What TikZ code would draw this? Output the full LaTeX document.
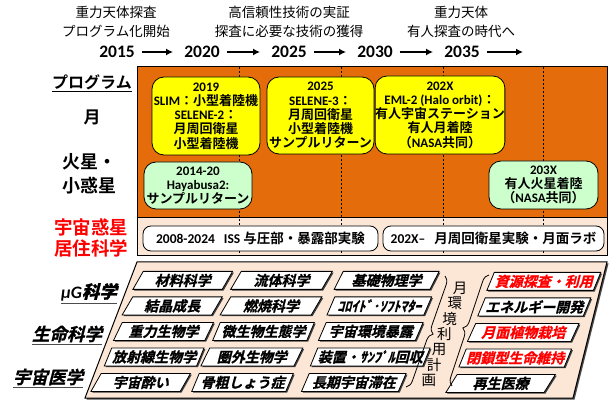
\documentclass[tikz,border=0pt]{standalone}
\usepackage{fontspec}
\setmainfont{Carlito}
\newfontfamily\jp{Noto Sans CJK JP}[BoldFont={Noto Sans CJK JP Bold}]
\newfontfamily\jpbi{Noto Sans CJK JP Bold}[FakeSlant=0.25,FakeBold=1]
\usetikzlibrary{shapes.geometric,shadows,decorations.pathreplacing,arrows.meta,calc}
\newcommand\en[1]{{\normalfont\bfseries #1}}
\definecolor{org}{RGB}{228,108,10}
\definecolor{bge}{RGB}{252,230,214}
\definecolor{ylw}{RGB}{255,255,0}
\definecolor{grn}{RGB}{204,255,204}
\tikzset{
  hdr/.style={align=center, inner sep=0pt, font={\jp\fontsize{13.5}{19}\selectfont}},
  yr/.style={inner sep=0pt, font={\bfseries\fontsize{17.5}{17.5}\selectfont}},
  yarr/.style={line width=1.8pt, -{Latex[length=7pt,width=7pt]}, shorten <=7pt, shorten >=11pt},
  lab/.style={inner sep=0pt, align=center, font={\jp\bfseries\fontsize{17}{23}\selectfont}},
  llab/.style={inner sep=0pt, font={\jpbi\fontsize{17.5}{17.5}\selectfont}},
  ybox/.style={draw=black, line width=0.8pt, rounded corners=12pt, fill=ylw, align=center, inner sep=0pt,
     font={\jp\bfseries\fontsize{13}{14.3}\selectfont}},
  gbox/.style={ybox, fill=grn},
  wbox/.style={draw=black, line width=0.8pt, rounded corners=8pt, fill=white, inner sep=0pt,
     minimum height=25pt, font={\jp\bfseries\fontsize{13.5}{13.5}\selectfont}},
  cell/.style={trapezium, trapezium left angle=61, trapezium right angle=119, trapezium stretches=true,
     draw=black, line width=0.8pt, fill=white, inner sep=0pt, minimum height=18pt, anchor=top left corner,
     font={\jpbi\fontsize{14}{14}\selectfont},
     drop shadow={shadow xshift=1.3pt, shadow yshift=-1.3pt, fill=black!75, opacity=1}},
  vt/.style={inner sep=0pt, font={\jp\fontsize{14.5}{14.5}\selectfont}},
  brc/.style={decorate, decoration={brace, amplitude=8pt}, line width=0.8pt},
  dsh/.style={line width=0.6pt, dash pattern=on 2pt off 2pt}
}
\begin{document}
\begin{tikzpicture}[x=1pt,y=-1pt]
\useasboundingbox (0,0) rectangle (614,401);
\fill[white] (0,0) rectangle (614,401);

% header
\node[hdr] (h1) at (116,22) {重力天体探査\\プログラム化開始};
\node[hdr] (h2) at (289,22) {高信頼性技術の実証\\探査に必要な技術の獲得};
\node[hdr] (h3) at (461,22) {重力天体\\有人探査の時代へ};

\node[yr] (y15) at (117,52) {2015};
\node[yr] (y20) at (202,52) {2020};
\node[yr] (y25) at (289,52) {2025};
\node[yr] (y30) at (375,52) {2030};
\node[yr] (y35) at (462,52) {2035};
\coordinate (yend) at (534,52);
\draw[yarr] (y15) -- (y20);
\draw[yarr] (y20) -- (y25);
\draw[yarr] (y25) -- (y30);
\draw[yarr] (y30) -- (y35);
\draw[yarr] (y35) -- (yend);

% upper frame
\fill[org] (137,67) rectangle (607,217);
\fill[bge] (137,217) rectangle (607,256);
\draw[line width=0.6pt] (137,217) -- (607,217);
\foreach \xx in {239,341,443,543} \draw[dsh] (\xx,67) -- (\xx,256);
\draw[line width=1pt] (137,67) rectangle (607,256);

% left labels
\node[lab, font={\jp\bfseries\fontsize{16}{16}\selectfont}] (prog) at (92,82) {プログラム};
\draw[line width=1.2pt] ([yshift=-1.5pt]prog.south west) -- ([yshift=-1.5pt]prog.south east);
\node[lab] (moon) at (92,117) {月};
\node[lab, font={\jp\bfseries\fontsize{18}{24}\selectfont}] (mars) at (90,174) {火星・\\小惑星};
\node[lab, text=red, font={\jp\bfseries\fontsize{18.5}{21}\selectfont}] (hab) at (91,238) {宇宙惑星\\居住科学};

% program boxes
\node[ybox, minimum width=108pt, minimum height=78pt] (p2019) at (206,116)
  {\en{2019}\\\en{SLIM}：小型着陸機\\\en{SELENE-2}：\\月周回衛星\\小型着陸機};
\node[ybox, minimum width=107pt, minimum height=77pt] (p2025) at (320.5,115.5)
  {\en{2025}\\\en{SELENE-3}：\\月周回衛星\\小型着陸機\\サンプルリターン};
\node[ybox, minimum width=118pt, minimum height=78pt] (p202x) at (440,115)
  {\en{202X}\\\en{EML-2 (Halo orbit)}：\\有人宇宙ステーション\\有人月着陸\\（\en{NASA}共同）};
\node[gbox, minimum width=108pt, minimum height=47pt] (hay) at (198,185.5)
  {\en{2014-20}\\\en{Hayabusa2:}\\サンプルリターン};
\node[gbox, minimum width=109pt, minimum height=48pt] (p203x) at (543.5,185)
  {\en{203X}\\有人火星着陸\\（\en{NASA}共同）};

\node[wbox, minimum width=235pt] (iss) at (260.5,238.5) {\en{2008-2024}\hspace{9pt}\en{ISS} 与圧部・暴露部実験};
\node[wbox, minimum width=221pt] (lab2) at (493.5,238.5) {\en{202X–}\hspace{9pt}月周回衛星実験・月面ラボ};

% lower frame
\path[fill=bge, draw=black, line width=1pt, drop shadow={shadow xshift=1.5pt, shadow yshift=-1.5pt, fill=black!70, opacity=1}]
  (137,262) -- (607,262) -- (573,398) -- (85,398) -- cycle;

\node[llab] (mug) at (89,292) {\normalfont\bfseries\itshape μG\jpbi 科学};
\draw[line width=1.2pt, black!70] ([yshift=-2pt]mug.south west) -- ([yshift=-2pt]mug.south east);
\node[llab] (life) at (67,334) {生命科学};
\draw[line width=1.2pt, black!70] ([yshift=-2pt]life.south west) -- ([yshift=-2pt]life.south east);
\node[llab] (med) at (48,377) {宇宙医学};
\draw[line width=1.2pt, black!70] ([yshift=-2pt]med.south west) -- ([yshift=-2pt]med.south east);

% cells
\node[cell, minimum width=100pt] (c11) at (143,271) {材料科学};
\node[cell, minimum width=102pt] (c12) at (241,271) {流体科学};
\node[cell, minimum width=105pt] (c13) at (343,271) {基礎物理学};
\node[cell, minimum width=100pt] (c21) at (132.5,296.5) {結晶成長};
\node[cell, minimum width=102pt] (c22) at (230.5,296.5) {燃焼科学};
\node[cell, minimum width=105pt] (c23) at (334.5,296.5) {ｺﾛｲﾄﾞ･ｿﾌﾄﾏﾀｰ};
\node[cell, minimum width=100pt] (c31) at (122,322) {重力生物学};
\node[cell, minimum width=102pt] (c32) at (220,322) {微生物生態学};
\node[cell, minimum width=105pt] (c33) at (326,322) {宇宙環境暴露};
\node[cell, minimum width=100pt] (c41) at (111.5,347.5) {放射線生物学};
\node[cell, minimum width=102pt] (c42) at (209.5,347.5) {圏外生物学};
\node[cell, minimum width=105pt] (c43) at (317.5,347.5) {装置・ｻﾝﾌﾟﾙ回収};
\node[cell, minimum width=100pt] (c51) at (101,373) {宇宙酔い};
\node[cell, minimum width=102pt] (c52) at (199,373) {骨粗しょう症};
\node[cell, minimum width=105pt] (c53) at (309,373) {長期宇宙滞在};

\node[cell, minimum width=114pt, text=red] (r1) at (494,272) {資源探査・利用};
\node[cell, minimum width=112pt] (r2) at (485,297.5) {エネルギー開発};
\node[cell, minimum width=112pt, text=red] (r3) at (475.5,323) {月面植物栽培};
\node[cell, minimum width=111pt, text=red] (r4) at (466,348.5) {閉鎖型生命維持};
\node[cell, minimum width=110pt] (r5) at (457,374) {再生医療};

% braces and vertical text
\coordinate (lbt) at (445,276);
\coordinate (lbb) at (406,387);
\coordinate (rbt) at (489,275);
\coordinate (rbb) at (452,386);
\draw[brc] (lbt) -- (lbb);
\draw[brc] (rbb) -- (rbt);
\foreach \ch [count=\i from 0] in {月,環,境,利,用,計,画}
  \node[vt] (v\i) at ({460-5.2*\i},{288+15.4*\i}) {\ch};
\end{tikzpicture}
\end{document}
